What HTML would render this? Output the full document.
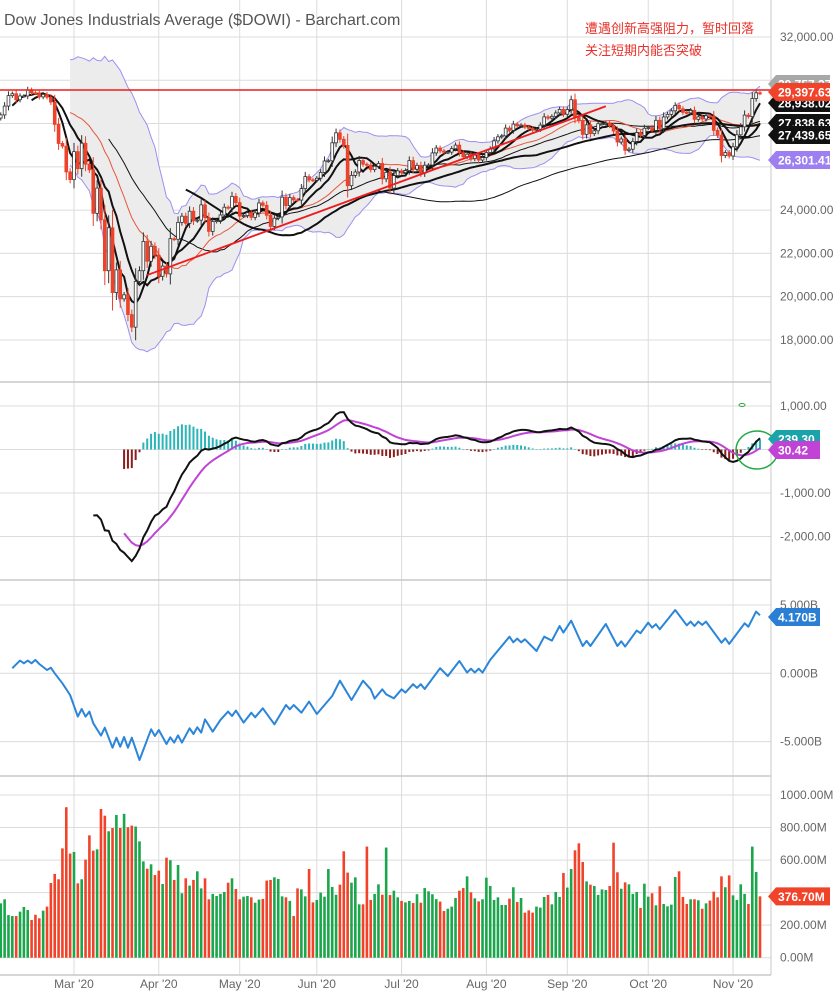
<!DOCTYPE html>
<html><head><meta charset="utf-8">
<style>
html,body{margin:0;padding:0;background:#fff;}
svg{display:block;font-family:"Liberation Sans","Noto Sans CJK SC",sans-serif;}
</style></head>
<body>
<svg id="chart" width="837" height="1000" viewBox="0 0 837 1000" xmlns="http://www.w3.org/2000/svg">
<rect x="0" y="0" width="837" height="1000" fill="#fff"/>
<g id="grid"></g>
<g id="price"></g>
<g id="macd"></g>
<g id="ad"></g>
<g id="vol"></g>
<g id="axes"></g>
<text x="4" y="25" font-size="16" fill="#555">Dow Jones Industrials Average ($DOWI) - Barchart.com</text>
<text x="585" y="33" font-size="13" fill="#e8312a">遭遇创新高强阻力，暂时回落</text>
<text x="585" y="55" font-size="13" fill="#e8312a">关注短期内能否突破</text>
</svg>
<script>
// ---- data ----
const closes = [28256,28400,28808,29290,29379,29102,29276,29276,29551,29423,29398,29232,29348,29219,28992,27960,27081,26957,25766,25409,
26703,25917,27091,26121,25864,23851,25018,23553,21200,23185,20189,21237,19899,20087,19174,18592,20704,21200,22552,21637,22327,21917,
20943,21413,21053,22680,22654,23434,23719,23390,23950,23505,23538,24242,23650,23019,23475,23515,23775,24134,24102,24634,24346,
23724,23750,23883,23665,23875,24331,24222,23764,23248,23625,23685,24597,24207,24576,24474,24465,24995,25548,25401,25383,
25475,25742,26270,26282,27111,27572,27272,26990,25128,25606,25763,26290,26120,26080,25871,26025,26156,25446,25745,25016,25596,25813,
25734,25827,26287,25890,26067,25706,26075,26086,26643,26870,26735,26672,26680,26840,27005,26652,26470,26584,26379,26539,26314,26428,
26664,26828,27201,27387,27433,27791,27687,27976,27896,27931,27845,27778,27692,27739,27930,28308,28249,28332,28492,28654,28430,
28646,29100,28292,28133,27501,27940,27535,27666,27993,27995,28032,27902,27657,27148,27288,26763,26815,27174,27584,27452,27782,
27817,27683,28149,27773,28304,28426,28587,28838,28680,28515,28495,28607,28196,28309,28211,28364,28336,27686,27463,26520,26660,26502,
26925,27481,27848,28391,28323,29158,29421,29398];
const volumes = [334,359,262,256,256,283,312,293,232,264,242,289,314,459,515,482,672,925,640,650,457,482,603,752,658,666,914,873,777,797,877,797,884,802,812,806,715,592,547,574,508,535,453,615,599,478,570,396,488,443,478,531,426,488,359,392,379,392,404,461,488,422,359,375,379,371,338,357,361,474,478,494,484,377,371,349,256,426,420,377,545,340,355,400,375,545,435,387,449,654,523,461,494,328,328,683,355,392,451,387,677,385,412,371,349,340,349,336,
390,338,428,408,390,360,345,287,301,314,367,412,428,500,402,365,346,359,492,441,355,371,324,324,363,433,342,367,277,291,277,314,308,373,386,328,404,373,521,431,545,660,703,588,469,449,441,386,420,416,441,707,525,424,463,451,392,404,306,455,375,396,322,439,330,316,326,496,531,373,330,359,359,353,301,334,351,406,371,500,433,506,383,355,451,392,330,683,527,377];
const adDay = [0,2,3,4,5,6,7,9,10,11,13,15,17,18,19,20,21,23,24,26,27,28,29,30,31,33,36,37,38,40,41,42,43,44,46,47,48,49,50,52,54,56,57,58,60,62,63,65,68,71,72,73,75,77,79,83,85,88,91,93,94,96,97,
99,101,102,104,105,106,107,111,113,116,118,119,120,121,122,124,129,130,131,132,133,136,138,140,142,143,145,148,149,150,154,157,158,159,162,163,165,166,167,168,172,175,176,177,178,179,180,184,185,186,190,191,193,194];
const adValue = [0.37,0.93,0.73,0.93,0.73,0.98,0.68,0.24,0.41,0,-0.73,-1.59,-3.17,-2.61,-3.17,-2.8,-3.66,-4.56,-3.98,-5.44,-4.71,-5.37,-4.66,-5.44,-4.71,-6.34,-4.1,-4.59,-4.15,-5.17,-4.68,-5.07,-4.54,-5.07,-4.02,-4.44,-3.95,-4.34,-3.37,-4.27,-3.41,-2.8,-3.12,-2.73,-3.61,-2.88,-3.22,-2.56,-3.73,-2.32,-2.63,-2.32,-2.88,-2.07,-2.98,-1.66,-0.54,-1.95,-0.54,-1.17,-1.85,-1.17,-1.54,
-1.83,-1.17,-1.41,-0.8,-1.07,-0.8,-1.15,0.37,-0.2,0.9,0.05,0.34,0.05,0.34,0.05,0.98,2.68,2.27,2.54,2.27,2.49,1.63,2.68,2.39,3.46,2.98,3.85,2.0,2.37,2.0,3.61,2.0,2.34,1.95,3.12,2.93,3.71,3.34,3.59,3.22,4.63,3.51,3.78,3.46,3.78,3.54,3.78,2.24,2.56,2.15,3.66,3.41,4.51,4.24];
const priceTicks = [32000,30000,28000,26000,24000,22000,20000,18000];
const priceTickLabels = ["32,000.00","","","","24,000.00","22,000.00","20,000.00","18,000.00"];
const macdTicks = [1000,0,-1000,-2000];
const macdTickLabels = ["1,000.00","","-1,000.00","-2,000.00"];
const adTicks = [5,0,-5];
const adTickLabels = ["5.000B","0.000B","-5.000B"];
const volTicks = [1000,800,600,400,200,0];
const volTickLabels = ["1000.00M","800.00M","600.00M","","200.00M","0.00M"];
const monthLabels = ["Mar '20","Apr '20","May '20","Jun '20","Jul '20","Aug '20","Sep '20","Oct '20","Nov '20"];
const monthsFromEnd = [179,157,136,116,94,72,51,30,8];
const resistanceLevel = 29550;
const trendStart = [39, 21000];
const trendEnd = [158, 28800];

// ---- scales ----
const N = closes.length, X_END = 760, STEP = 3.854;
const xi = i => X_END - (N - 1 - i) * STEP;
const yP = v => 37 + (32000 - v) * 0.02164;
const yM = v => 449.5 - v * 0.0435;
const yA = v => 673.3 - v * 13.67;
const yV = v => 957.7 - v * 0.1627;
const volOff = N - volumes.length;
const adOff = N - 1 - adDay[adDay.length - 1];
const monthDayIndex = monthsFromEnd.map(d => N - d);
const NS = 'http://www.w3.org/2000/svg';
function mk(tag, attrs, parent, txt) {
  const e = document.createElementNS(NS, tag);
  for (const k in attrs) e.setAttribute(k, attrs[k]);
  if (txt !== undefined) e.textContent = txt;
  parent.appendChild(e); return e;
}
const G = id => document.getElementById(id);

// indicators
function sma(n){return closes.map((c,i)=> i<n-1?null: closes.slice(i-n+1,i+1).reduce((a,b)=>a+b,0)/n);}
function ema(arr,n){const k=2/(n+1);const out=[];let prev=null;let cnt=0,sum=0;
  arr.forEach((v,i)=>{ if(v===null){out.push(null);return;} if(prev===null){sum+=v;cnt++; if(cnt===n){prev=sum/n;out.push(prev);} else out.push(null);} else {prev=v*k+prev*(1-k);out.push(prev);} });return out;}
const ma5=sma(5), ma10=sma(10), ma20=sma(20), ma30=sma(30), ma50=sma(50), ma100=sma(100);
const bbU=[], bbL=[];
closes.forEach((c,i)=>{ if(i<19){bbU.push(null);bbL.push(null);return;} const s=closes.slice(i-19,i+1); const m=ma20[i]; const sd=Math.sqrt(s.reduce((a,b)=>a+(b-m)*(b-m),0)/20); bbU.push(m+2*sd); bbL.push(m-2*sd);});
const e12=ema(closes,12), e26=ema(closes,26);
const macdLine=closes.map((c,i)=> e26[i]===null?null:e12[i]-e26[i]);
const signal=ema(macdLine,9);

function pathOf(arr, ys){let d='';arr.forEach((v,i)=>{ if(v===null) return; d+=(d?'L':'M')+xi(i).toFixed(1)+','+ys(v).toFixed(1);});return d;}

// ---- grid ----
const grid=G('grid');
monthDayIndex.forEach((d,k)=>{ const l=mk('line',{x1:xi(d),x2:xi(d),y1:0,y2:975,stroke:'#dcdcdc','stroke-width':1},grid);

});
priceTicks.forEach(t=>{const l=mk('line',{x1:0,x2:771,y1:yP(t),y2:yP(t),stroke:'#dcdcdc'},grid);

});
macdTicks.forEach(t=>{const l=mk('line',{x1:0,x2:771,y1:yM(t),y2:yM(t),stroke:'#dcdcdc'},grid);

});
adTicks.forEach(t=>{const l=mk('line',{x1:0,x2:771,y1:yA(t),y2:yA(t),stroke:'#dcdcdc'},grid);

});
volTicks.forEach(t=>{const l=mk('line',{x1:0,x2:771,y1:yV(t),y2:yV(t),stroke:'#dcdcdc'},grid);

});
[382,580,776,975].forEach(y=>{const l=mk('line',{x1:0,x2:771,y1:y,y2:y,stroke:'#c8c8c8','stroke-width':1.5},grid);

});
{const l=mk('line',{x1:771,x2:771,y1:0,y2:975,stroke:'#c8c8c8'},grid);

}

// ---- price panel ----
const pr=G('price');
let bbTop='',bbBot='';
closes.forEach((c,i)=>{ if(bbU[i]===null) return; bbTop+=(bbTop?'L':'M')+xi(i).toFixed(1)+','+yP(bbU[i]).toFixed(1);});
for(let i=N-1;i>=0;i--){ if(bbL[i]===null) continue; bbBot+='L'+xi(i).toFixed(1)+','+yP(bbL[i]).toFixed(1);}
{const p=mk('path',{d:bbTop+bbBot+'Z',fill:'#ececec',stroke:'none'},pr);

}
{const p=mk('path',{d:pathOf(bbU,yP),fill:'none',stroke:'#9d8ff2','stroke-width':1},pr);

}
{const p=mk('path',{d:pathOf(bbL,yP),fill:'none',stroke:'#9d8ff2','stroke-width':1},pr);

}
{const p=mk('path',{d:pathOf(ma100,yP),fill:'none',stroke:'#111','stroke-width':1},pr);

}
{const p=mk('path',{d:pathOf(ma30,yP),fill:'none',stroke:'#111','stroke-width':1},pr);

}
{const p=mk('path',{d:pathOf(ma20,yP),fill:'none',stroke:'#e8553a','stroke-width':1},pr);

}
{const p=mk('path',{d:pathOf(ma50,yP),fill:'none',stroke:'#111','stroke-width':2},pr);

}
{const p=mk('path',{d:pathOf(ma10,yP),fill:'none',stroke:'#111','stroke-width':2},pr);

}
{const p=mk('path',{d:pathOf(ma5,yP),fill:'none',stroke:'#111','stroke-width':2},pr);

}
closes.forEach((c,i)=>{
  if(i===0) return;
  const o=closes[i-1], hi=Math.max(o,c), lo=Math.min(o,c), ext=Math.abs(c-o)*0.25+80;
  const x=xi(i); const down=c<o;
  const w=mk('line',{x1:x,x2:x,y1:yP(hi+ext),y2:yP(lo-ext),stroke:down?'#e8412a':'#333','stroke-width':1},pr);
  
  
  const h=Math.max(1,yP(lo)-yP(hi));
  const r=mk('rect',{x:x-1.4,y:yP(hi),width:2.8,height:h,fill:down?'#f0432a':'#fff',stroke:down?'#e8412a':'#333','stroke-width':0.8},pr);
  
  
});
{const l=mk('line',{x1:0,x2:771,y1:yP(resistanceLevel),y2:yP(resistanceLevel),stroke:'#ee1c1c','stroke-width':1.5},pr);

}
{const l=mk('line',{x1:xi(trendStart[0]),y1:yP(trendStart[1]),x2:xi(trendEnd[0]),y2:yP(trendEnd[1]),stroke:'#ee1c1c','stroke-width':1.8},pr);

}

// ---- MACD ----
const mg=G('macd');
macdLine.forEach((v,i)=>{ if(v===null||signal[i]===null) return; const h=v-signal[i];
  const r=mk('rect',{x:xi(i)-1,y:Math.min(yM(h),yM(0)),width:2,height:Math.max(0.5,Math.abs(yM(h)-yM(0))),fill:h>=0?'#2ab5b8':'#8b1d1d'},mg);
  
  });
{const p=mk('path',{d:pathOf(signal,yM),fill:'none',stroke:'#c043d6','stroke-width':2},mg);

}
{const p=mk('path',{d:pathOf(macdLine,yM),fill:'none',stroke:'#111','stroke-width':2},mg);

}
{const e=mk('ellipse',{cx:757,cy:450,rx:21,ry:19,fill:'none',stroke:'#22aa44','stroke-width':1.5},mg);

}
{const e=mk('ellipse',{cx:742,cy:405,rx:3,ry:1.5,fill:'none',stroke:'#22aa44','stroke-width':1},mg);

}

// ---- A/D ----
const ag=G('ad');
{let d='';adDay.forEach((k,j)=>{d+=(j?'L':'M')+xi(k+adOff).toFixed(1)+','+yA(adValue[j]).toFixed(1);});
 const p=mk('path',{d:d,fill:'none',stroke:'#2b86d9','stroke-width':2,'stroke-linejoin':'round'},ag);
 
 }

// ---- volume ----
const vg=G('vol');
volumes.forEach((v,j)=>{ const i=j+volOff; const up=i===0?true:closes[i]>=closes[i-1];
  const r=mk('rect',{x:xi(i)-1.3,y:yV(v),width:2.6,height:yV(0)-yV(v),fill:up?'#1aa64a':'#f0432a'},vg);
  
  });

// ---- axes labels ----
const ax=G('axes');
function lab(txt,y,name){const t=mk('text',{x:780,y:y+4,'font-size':12,fill:'#666'},ax,txt);

}
priceTicks.forEach((t,k)=>{ if(priceTickLabels[k]) lab(priceTickLabels[k],yP(t),'price-tick-label');});
macdTicks.forEach((t,k)=>{ if(macdTickLabels[k]) lab(macdTickLabels[k],yM(t),'macd-tick-label');});
adTicks.forEach((t,k)=>{ if(adTickLabels[k]) lab(adTickLabels[k],yA(t),'ad-tick-label');});
volTicks.forEach((t,k)=>{ if(volTickLabels[k]) lab(volTickLabels[k],yV(t),'volume-tick-label');});
monthLabels.forEach((m,k)=>{const t=mk('text',{x:xi(monthDayIndex[k]),y:988,'font-size':12,fill:'#666','text-anchor':'middle'},ax,m);

});
function tag(txt,y,color,name,w){w=w||62;const x0=768;
  const p=mk('polygon',{points:`${x0},${y} ${x0+8},${y-9} ${x0+w},${y-9} ${x0+w},${y+9} ${x0+8},${y+9}`,fill:color},ax);
  
  
  const t=mk('text',{x:x0+10,y:y+4.5,'font-size':12,'font-weight':'bold',fill:'#fff'},ax,txt);
  
  }
tag('29,757.37',84,'#a8a8a8','tag-high');
tag('28,938.02',103,'#111','tag-ma5');
tag('29,397.63',92,'#f0432a','tag-last-price');
tag('27,838.63',123,'#111','tag-ma10');
tag('27,439.65',135,'#111','tag-ma50');
tag('26,301.41',160,'#9d7ff2','tag-bollinger-lower');
tag('239.30',439,'#1aa3a8','tag-macd',52);
tag('30.42',450,'#c043d6','tag-signal',52);
tag('4.170B',617,'#2a7fd4','tag-ad',52);
tag('376.70M',yV(376.7),'#f0432a','tag-volume',62);
</script>
</body></html>
